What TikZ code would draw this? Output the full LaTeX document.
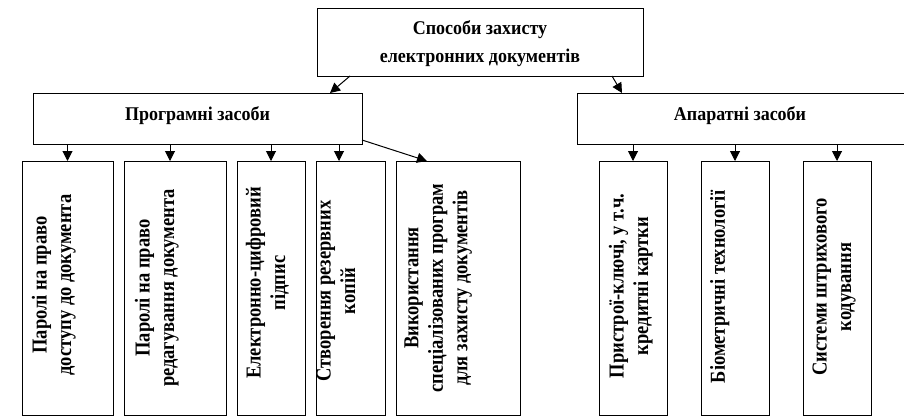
\documentclass[tikz,border=0pt]{standalone}
\usepackage{fontspec}
\setmainfont{Liberation Serif}
\usepackage{graphicx}
\usetikzlibrary{arrows.meta}
\newcommand{\vlines}[1]{\scalebox{1}[1.15]{\begin{tabular}{@{}c@{}}#1\end{tabular}}}
\newcommand{\hlines}[1]{\scalebox{1}[1.08]{\begin{tabular}{@{}c@{}}#1\end{tabular}}}
\begin{document}
\begin{tikzpicture}[x=1pt,y=-1pt,
  box/.style={draw,line width=1pt,inner sep=0pt,outer sep=0pt},
  htext/.style={inner sep=0pt,align=center,font=\bfseries\fontsize{18}{26}\selectfont},
  vtext/.style={inner sep=0pt,align=center,rotate=90,font=\bfseries\fontsize{18.5}{21.3}\selectfont},
  arr/.style={line width=1pt,-{Triangle[length=10pt,width=10pt]}}]
\useasboundingbox (0,0) rectangle (904,416);
% boxes
\node[box,minimum width=326pt,minimum height=68pt] (top) at (480,42) {};
\node[htext] (ttop) at (480,43) {\hlines{Способи захисту\\електронних документів}};
\node[box,minimum width=329pt,minimum height=51pt] (prog) at (197.5,118.5) {};
\node[box,minimum width=328pt,minimum height=51pt] (apar) at (741,118.5) {};
\node[htext] (tprog) at (197.5,115) {\hlines{Програмні засоби}};
\node[htext] (tapar) at (740,115) {\hlines{Апаратні засоби}};
\node[box,minimum width=91pt,minimum height=254pt] (b1) at (67.5,288) {};
\node[box,minimum width=102pt,minimum height=254pt] (b2) at (175,288) {};
\node[box,minimum width=68pt,minimum height=254pt] (b3) at (271,288) {};
\node[box,minimum width=69pt,minimum height=254pt] (b4) at (350.5,288) {};
\node[box,minimum width=124pt,minimum height=254pt] (b5) at (458,288) {};
\node[box,minimum width=68pt,minimum height=254pt] (b6) at (633,288) {};
\node[box,minimum width=68pt,minimum height=254pt] (b7) at (735,288) {};
\node[box,minimum width=68pt,minimum height=254pt] (b8) at (837,288) {};
% vertical texts
\node[vtext] (t1) at (54,285) {\vlines{Паролі на право\\доступу до документа}};
\node[vtext] (t2) at (157,288) {\vlines{Паролі на право\\редагування документа}};
\node[vtext] (t3) at (268,283) {\vlines{Електронно-цифровий\\підпис}};
\node[vtext] (t4) at (338,291) {\vlines{Створення резервних\\копій}};
\node[vtext] (t5) at (438,288) {\vlines{Використання\\спеціалізованих програм\\для захисту документів}};
\node[vtext] (t6) at (631,286) {\vlines{Пристрої-ключі, у т.ч.\\кредитні картки}};
\node[vtext] (t7) at (720,287) {\vlines{Біометричні технології}};
\node[vtext] (t8) at (834,287) {\vlines{Системи штрихового\\кодування}};
% connectors
\coordinate (s1) at ([xshift=-130pt]top.south);
\coordinate (e1) at ([xshift=132.5pt]prog.north);
\coordinate (s2) at ([xshift=132pt]top.south);
\coordinate (e2) at ([xshift=-119pt]apar.north);
\draw[arr] (s1) -- (e1);
\draw[arr] (s2) -- (e2);
\coordinate (a2) at ([xshift=-5pt]b2.north);
\coordinate (a4) at ([xshift=-11.5pt]b4.north);
\coordinate (a5) at ([xshift=-31pt]b5.north);
\coordinate (p5) at ([yshift=-21.5pt]prog.east);
\draw[arr] (b1.north |- prog.south) -- (b1.north);
\draw[arr] (a2 |- prog.south) -- (a2);
\draw[arr] (b3.north |- prog.south) -- (b3.north);
\draw[arr] (a4 |- prog.south) -- (a4);
\draw[arr] (p5) -- (a5);
\draw[arr] (b6.north |- apar.south) -- (b6.north);
\draw[arr] (b7.north |- apar.south) -- (b7.north);
\draw[arr] (b8.north |- apar.south) -- (b8.north);
\end{tikzpicture}
\end{document}
